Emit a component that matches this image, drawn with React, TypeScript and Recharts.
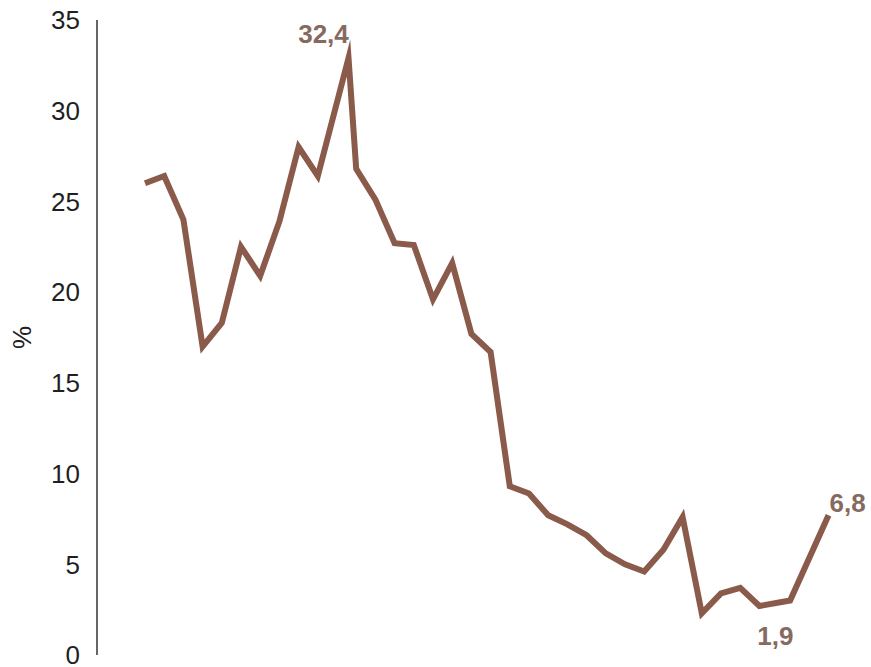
import React from 'react';
import { LineChart, Line, XAxis, YAxis, LabelList } from 'recharts';

// position along the time axis (irregular around the peak and at the end)
const xs = [
  0, 1, 2, 3, 4, 5, 6, 7, 8, 9, 10.6, 11, 12, 13, 14, 15, 16, 17, 18, 19, 20, 21,
  22, 23, 24, 25, 26, 27, 28, 29, 30, 31, 32, 33.6, 35.6,
];

// share, %
const values = [
  26.0, 26.4, 24.0, 17.0, 18.3, 22.5, 20.9, 23.9, 28.0, 26.4, 32.9, 26.8, 25.1,
  22.7, 22.6, 19.6, 21.6, 17.7, 16.7, 9.3, 8.9, 7.7, 7.2, 6.6, 5.6, 5.0, 4.6,
  5.8, 7.6, 2.3, 3.4, 3.7, 2.7, 3.0, 7.7,
];

// data labels shown on the chart (empty = no label)
const pointLabels = [
  '', '', '', '', '', '', '', '', '', '', '32,4', '', '', '', '', '', '', '', '',
  '', '', '', '', '', '', '', '', '', '', '', '', '', '1,9', '', '6,8',
];

const yTicks = [0, 5, 10, 15, 20, 25, 30, 35];

const data = xs.map((x, i) => ({ x, value: values[i], label: pointLabels[i] }));

const LINE_COLOR = '#8a5a4a';
const LABEL_COLOR = '#866a61';

// where each data label sits relative to its point
const labelPlacement: Record<string, { dx: number; dy: number; anchor: string }> = {
  '32,4': { dx: -25, dy: -15, anchor: 'middle' },
  '1,9': { dx: 16, dy: 39, anchor: 'middle' },
  '6,8': { dx: 1, dy: -3, anchor: 'start' },
};

const renderLabel = (props: any) => {
  const { x, y, value } = props;
  if (!value) return null;
  const p = labelPlacement[value] || { dx: 0, dy: -10, anchor: 'middle' };
  return (
    <text
      x={x + p.dx}
      y={y + p.dy}
      textAnchor={p.anchor}
      fill={LABEL_COLOR}
      fontSize={26}
      fontWeight="bold"
      fontFamily="'Liberation Sans', Arial, sans-serif"
    >
      {value}
    </text>
  );
};

const renderAxisTitle = (props: any) => {
  const vb = props.viewBox || {};
  const cx = 22;
  const cy = (vb.y || 0) + (vb.height || 0) / 2;
  return (
    <text
      x={cx}
      y={cy}
      transform={`rotate(-90 ${cx} ${cy})`}
      textAnchor="middle"
      dominantBaseline="central"
      fill="#222"
      fontSize={26}
      fontFamily="'Liberation Sans', Arial, sans-serif"
    >
      %
    </text>
  );
};

export default function App() {
  return (
    <div style={{ position: 'absolute', left: 0, top: 0, width: 871, height: 667, background: '#fff' }}>
      <LineChart
        width={871}
        height={667}
        data={data}
        margin={{ top: 20, right: 15.6, bottom: 12, left: 0 }}
      >
        <XAxis dataKey="x" type="number" domain={[-2.5, 37]} hide />
        <YAxis
          width={97}
          domain={[0, 35]}
          ticks={yTicks}
          interval={0}
          tickLine={false}
          tickMargin={11}
          axisLine={{ stroke: '#666', strokeWidth: 2 }}
          tick={{ fill: '#1f1f1f', fontSize: 26, fontFamily: "'Liberation Sans', Arial, sans-serif" }}
          label={{ content: renderAxisTitle }}
        />
        <Line
          type="linear"
          dataKey="value"
          stroke={LINE_COLOR}
          strokeWidth={6}
          strokeLinejoin="miter"
          strokeMiterlimit={10}
          dot={false}
          activeDot={false}
          isAnimationActive={false}
        >
          <LabelList dataKey="label" content={renderLabel} />
        </Line>
      </LineChart>
    </div>
  );
}
